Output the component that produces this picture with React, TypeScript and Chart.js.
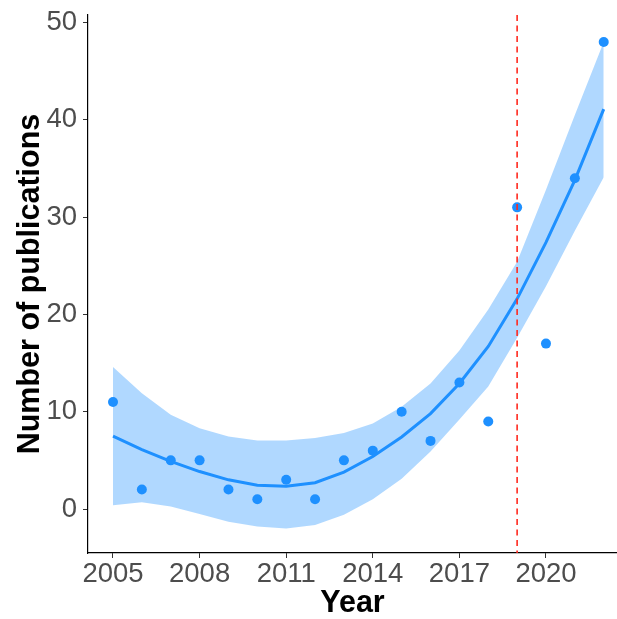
import React, { useEffect, useRef } from "react";
import { Chart, registerables } from "chart.js";

Chart.register(...registerables);

// Publications per year with a smoothed trend and its confidence band
const YEARS = [2005, 2006, 2007, 2008, 2009, 2010, 2011, 2012, 2013, 2014, 2015, 2016, 2017, 2018, 2019, 2020, 2021, 2022];
const PUBLICATIONS = [11, 2, 5, 5, 2, 1, 3, 1, 5, 6, 10, 7, 13, 9, 31, 17, 34, 48];
const FIT = [7.5, 6.1, 4.9, 3.85, 3.0, 2.45, 2.35, 2.7, 3.8, 5.4, 7.4, 9.8, 12.9, 16.7, 21.6, 27.4, 33.8, 41.1];
const FIT_UPPER = [14.6, 11.9, 9.7, 8.3, 7.45, 7.05, 7.05, 7.3, 7.8, 8.8, 10.5, 12.9, 16.3, 20.5, 25.4, 32.8, 40.5, 48.0];
const FIT_LOWER = [0.4, 0.7, 0.25, -0.5, -1.3, -1.8, -2.0, -1.65, -0.6, 1.0, 3.1, 5.9, 9.2, 12.6, 17.6, 22.9, 28.6, 34.1];

const X_TICKS = [2005, 2008, 2011, 2014, 2017, 2020];
const Y_TICKS = [0, 10, 20, 30, 40, 50];
const CUTOFF_YEAR = 2019;

const BLUE = "#1E90FF";
const BAND = "rgba(30,144,255,0.35)";
const FONT = "'Liberation Sans', Arial, Helvetica, sans-serif";

const toPoints = (ys: number[]) => YEARS.map((x, i) => ({ x, y: ys[i] }));

// Dashed vertical marker at the cutoff year
const cutoffLine = {
  id: "cutoffLine",
  afterDatasetsDraw(chart: any) {
    const { ctx, chartArea, scales } = chart;
    const x = scales.x.getPixelForValue(CUTOFF_YEAR);
    ctx.save();
    ctx.strokeStyle = "#FF2A1F";
    ctx.lineWidth = 1.6;
    ctx.setLineDash([6, 4.5]);
    ctx.beginPath();
    ctx.moveTo(x, chartArea.top);
    ctx.lineTo(x, chartArea.bottom);
    ctx.stroke();
    ctx.restore();
  },
};

export default function App() {
  const canvasRef = useRef<HTMLCanvasElement | null>(null);

  useEffect(() => {
    if (!canvasRef.current) return;
    const chart = new Chart(canvasRef.current, {
      type: "line",
      data: {
        datasets: [
          {
            label: "Publications",
            data: toPoints(PUBLICATIONS),
            showLine: false,
            pointRadius: 5,
            pointHoverRadius: 5,
            pointBackgroundColor: BLUE,
            pointBorderWidth: 0,
            borderColor: BLUE,
          },
          {
            label: "Trend",
            data: toPoints(FIT),
            borderColor: BLUE,
            borderWidth: 3,
            pointRadius: 0,
            tension: 0,
            fill: false,
          },
          {
            label: "Upper",
            data: toPoints(FIT_UPPER),
            borderWidth: 0,
            borderColor: "rgba(0,0,0,0)",
            pointRadius: 0,
            tension: 0,
            fill: "+1",
            backgroundColor: BAND,
          },
          {
            label: "Lower",
            data: toPoints(FIT_LOWER),
            borderWidth: 0,
            borderColor: "rgba(0,0,0,0)",
            pointRadius: 0,
            tension: 0,
            fill: false,
          },
        ],
      },
      options: {
        animation: false,
        responsive: true,
        maintainAspectRatio: false,
        layout: { autoPadding: false, padding: { top: 15, right: 0, left: 0, bottom: 0 } },
        plugins: {
          legend: { display: false },
          tooltip: { enabled: false },
        },
        scales: {
          x: {
            type: "linear",
            min: 2004.134,
            max: 2022.46,
            afterBuildTicks: (scale: any) => {
              scale.ticks = X_TICKS.map((value) => ({ value }));
            },
            afterFit: (scale: any) => {
              scale.height = 66;
              scale.paddingLeft = 0;
              scale.paddingRight = 0;
            },
            ticks: {
              callback: (v: any) => String(v),
              color: "#4D4D4D",
              font: { family: FONT, size: 27.5, lineHeight: 1 },
              padding: 3,
              maxRotation: 0,
              autoSkip: false,
            },
            grid: {
              display: true,
              drawOnChartArea: false,
              drawTicks: true,
              tickLength: 5,
              color: "#333333",
              lineWidth: 1,
            },
            border: { display: true, color: "#000000", width: 1.2 },
            title: {
              display: true,
              text: "Year",
              color: "#000000",
              font: { family: FONT, size: 30.5, weight: "bold", lineHeight: 1 },
              padding: { top: 0, bottom: 0 },
            },
          },
          y: {
            type: "linear",
            min: -4.52,
            max: 50.77,
            afterBuildTicks: (scale: any) => {
              scale.ticks = Y_TICKS.map((value) => ({ value }));
            },
            afterFit: (scale: any) => {
              scale.width = 88;
              scale.paddingTop = 0;
              scale.paddingBottom = 0;
            },
            ticks: {
              callback: (v: any) => String(v),
              color: "#4D4D4D",
              font: { family: FONT, size: 27.5, lineHeight: 1 },
              padding: 6,
              autoSkip: false,
            },
            grid: {
              display: true,
              drawOnChartArea: false,
              drawTicks: true,
              tickLength: 5,
              color: "#333333",
              lineWidth: 1,
            },
            border: { display: true, color: "#000000", width: 1.2 },
            title: {
              display: true,
              text: "Number of publications",
              color: "#000000",
              font: { family: FONT, size: 30.5, weight: "bold", lineHeight: 1 },
              padding: { top: 15, bottom: 0 },
            },
          },
        },
      },
      plugins: [cutoffLine],
    });
    return () => chart.destroy();
  }, []);

  return (
    <div style={{ position: "fixed", left: 0, top: 0, width: 617, height: 619, background: "#ffffff" }}>
      <canvas ref={canvasRef} />
    </div>
  );
}
